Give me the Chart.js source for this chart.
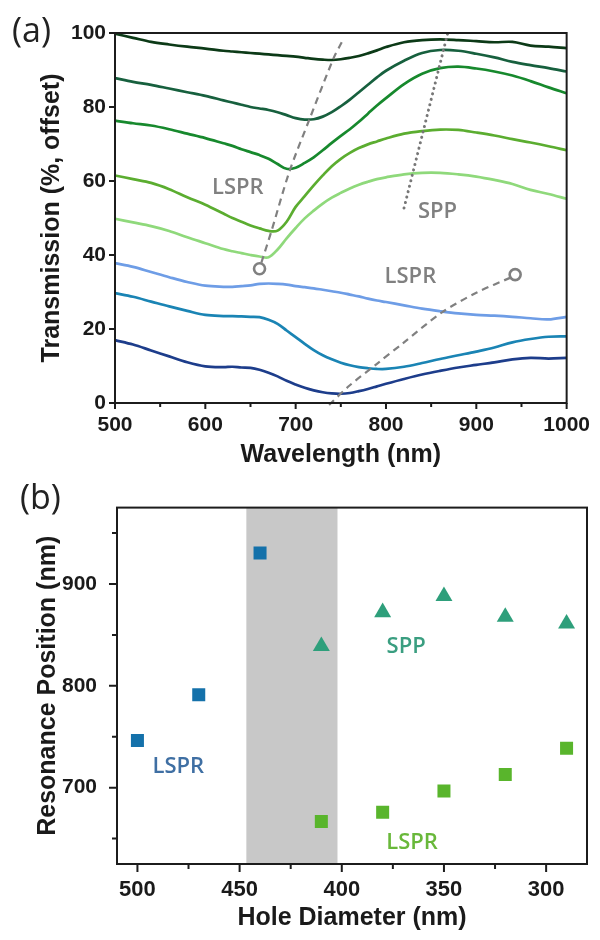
<!DOCTYPE html>
<html>
<head>
<meta charset="utf-8">
<title>Transmission spectra and resonance positions</title>
<script src="https://cdn.jsdelivr.net/npm/chart.js@4.4.1/dist/chart.umd.min.js"></script>
<style>
  html, body { margin: 0; padding: 0; background: #fff; }
  #wrap { position: relative; width: 600px; height: 940px; }
  canvas { position: absolute; left: 0; }
  #chartA { top: 0; }
  #chartB { top: 475px; }
</style>
</head>
<body>
<div id="wrap">
  <canvas id="chartA" width="600" height="475"></canvas>
  <canvas id="chartB" width="600" height="465"></canvas>
</div>
<script>
// ---- (a) transmission spectra (%, curves offset vertically) ----
const wavelengths = [500, 520, 540, 560, 580, 600,
  620, 630, 640, 650, 660, 670, 680, 690, 700, 710, 720, 730, 740, 750, 760, 770, 780, 790, 800,
  820, 840, 860, 880, 900, 920, 940, 960, 980, 1000];

const spec1 = [99.8, 98.7, 97.6, 96.9, 96.3, 95.8,
  95.2, 95.0, 94.8, 94.6, 94.4, 94.2, 94.0, 93.8, 93.6, 93.3, 93.0, 92.8, 92.7, 92.9, 93.3, 93.8, 94.5, 95.3, 96.2,
  97.5, 98.1, 98.3, 98.1, 97.8, 97.5, 97.6, 96.6, 96.3, 95.9];
const spec2 = [87.8, 86.8, 86.0, 85.0, 84.0, 83.0,
  81.8, 81.2, 80.6, 80.0, 79.6, 79.2, 78.6, 77.8, 77.0, 76.6, 76.7, 77.4, 78.6, 80.2, 82.0, 84.0, 86.0, 88.0, 89.8,
  92.5, 94.6, 95.4, 95.2, 94.4, 93.4, 92.2, 91.3, 90.5, 89.6];
const spec3 = [76.3, 75.6, 75.0, 74.0, 72.8, 71.6,
  70.2, 69.5, 68.6, 67.8, 67.0, 66.0, 64.6, 63.3, 63.6, 64.9, 66.4, 68.3, 70.3, 72.2, 74.0, 76.0, 78.2, 80.4, 82.4,
  86.2, 89.0, 90.5, 90.9, 90.4, 89.6, 88.5, 87.0, 85.3, 83.7];
const spec4 = [61.5, 60.5, 59.5, 57.8, 55.6, 53.6,
  51.2, 50.0, 49.0, 48.0, 47.2, 46.5, 46.6, 49.0, 53.0, 55.9, 58.8, 61.5, 64.0, 66.0, 67.6, 68.9, 69.9, 70.7, 71.5,
  72.8, 73.5, 73.9, 73.8, 73.1, 72.3, 71.3, 70.4, 69.4, 68.3];
const spec5 = [49.8, 48.8, 47.8, 46.5, 44.8, 43.2,
  41.6, 41.0, 40.5, 40.0, 39.6, 39.4, 41.5, 44.5, 47.3, 49.9, 52.0, 53.9, 55.5, 56.8, 58.0, 59.0, 59.8, 60.5, 61.0,
  61.8, 62.2, 62.2, 61.8, 61.2, 60.3, 59.2, 57.6, 56.5, 55.2];
const spec6 = [37.8, 36.8, 35.4, 34.0, 32.7, 31.7,
  31.4, 31.4, 31.6, 31.8, 32.2, 32.3, 32.2, 32.0, 31.6, 31.3, 31.0, 30.6, 30.2, 29.8, 29.3, 28.8, 28.2, 27.7, 27.3,
  26.4, 25.5, 24.8, 24.2, 23.8, 23.6, 23.3, 22.9, 22.6, 23.3];
const spec7 = [29.7, 28.7, 27.4, 26.1, 24.9, 23.8,
  23.5, 23.5, 23.4, 23.3, 23.2, 22.5, 21.4, 19.6, 17.8, 16.0, 14.3, 12.9, 11.8, 10.9, 10.2, 9.7, 9.4, 9.2, 9.2,
  9.8, 10.8, 11.9, 12.9, 13.9, 15.0, 16.4, 17.3, 17.9, 18.0];
const spec8 = [17.0, 15.8, 14.2, 12.6, 11.0, 9.9,
  9.7, 9.8, 9.6, 9.5, 9.0, 8.2, 7.2, 6.0, 5.0, 4.1, 3.4, 2.9, 2.6, 2.5, 2.7, 3.2, 3.8, 4.5, 5.2,
  6.5, 7.7, 8.7, 9.6, 10.3, 11.0, 11.8, 12.2, 12.0, 12.2];
const specColors = ['#0c3a17', '#17603e', '#17892d', '#5bad30', '#8fd97b', '#6e9de6', '#1a84b4', '#1d3d8b'];

// guide lines through the resonance dips / peaks
const lsprGuideX = [662, 673, 693, 715, 742, 751];
const lsprGuideY = [37.9, 46.3, 62.5, 76.5, 93.2, 97.5];
const sppGuideX = [820, 869];
const sppGuideY = [52.7, 100.6];
const lsprTailX = [737, 760, 790, 820, 862, 900, 938];
const lsprTailY = [-0.5, 4.8, 10.6, 16.4, 24.5, 29.8, 33.9];
const guideEndX = [660, 943];
const guideEndY = [36.3, 34.7];

const notesA = ['LSPR', 'SPP', 'LSPR'];
const notesAX = [636, 857, 827];
const notesAY = [58.1, 51.6, 34.0];

const xTicksA = [500, 600, 700, 800, 900, 1000];
const xMinorA = [550, 650, 750, 850, 950];
const yTicksA = [0, 20, 40, 60, 80, 100];

// ---- (b) resonance position vs hole diameter ----
const lsprBlueD = [500, 470, 440];
const lsprBlue = [746.3, 791.1, 930.3];
const sppD = [410, 380, 350, 320, 290];
const spp = [838.9, 872.2, 888.0, 867.6, 861.0];
const lsprGreenD = [410, 380, 350, 320, 290];
const lsprGreen = [666.7, 675.8, 696.8, 712.8, 738.6];
const bandRange = [446.7, 402.1];

const notesB = ['LSPR', 'SPP', 'LSPR'];
const notesBX = [480, 368.5, 365.6];
const notesBY = [720.4, 838, 646];
const notesBColors = ['#3f6fa3', '#3a9e80', '#69b83a'];

const xTicksB = [500, 450, 400, 350, 300];
const xMinorB = [475, 425, 375, 325];
const yTicksB = [700, 800, 900];
const yMinorB = [650, 750, 850, 950];

Chart.defaults.font.family = "'Liberation Sans', Arial, sans-serif";
Chart.defaults.color = '#1a1a1a';
Chart.defaults.animation = false;

const toPoints = (xs, ys) => xs.map((x, i) => ({x: x, y: ys[i]}));
const fixTicks = vals => s => { s.ticks = vals.map(v => ({value: v})); };

// box round the plot area plus outward tick marks
function framePlugin(cfg) {
  return {
    id: 'frame',
    afterDatasetsDraw(chart) {
      const {ctx, chartArea: a, scales: {x, y}} = chart;
      ctx.save();
      ctx.strokeStyle = '#1c1c1c';
      ctx.lineWidth = 2;
      ctx.strokeRect(a.left, a.top, a.right - a.left, a.bottom - a.top);
      ctx.beginPath();
      const xt = (vals, len) => vals.forEach(v => {
        const p = x.getPixelForValue(v);
        ctx.moveTo(p, a.bottom); ctx.lineTo(p, a.bottom + len);
      });
      const yt = (vals, len) => vals.forEach(v => {
        const p = y.getPixelForValue(v);
        ctx.moveTo(a.left, p); ctx.lineTo(a.left - len, p);
      });
      xt(cfg.xMajor, cfg.majorLen); xt(cfg.xMinor, cfg.minorLen);
      yt(cfg.yMajor, cfg.majorLen); yt(cfg.yMinor, cfg.minorLen);
      ctx.stroke();
      ctx.restore();
    }
  };
}

// text notes placed in data coordinates, plus the panel letter
function notesPlugin(texts, xs, ys, colors, letter, lx, ly) {
  return {
    id: 'notes',
    afterDraw(chart) {
      const {ctx, scales: {x, y}} = chart;
      ctx.save();
      ctx.font = "600 22px 'Open Sans', sans-serif";
      ctx.textAlign = 'center';
      ctx.textBaseline = 'middle';
      texts.forEach((t, i) => {
        ctx.fillStyle = colors[i];
        ctx.fillText(t, x.getPixelForValue(xs[i]), y.getPixelForValue(ys[i]));
      });
      ctx.font = "34px 'Open Sans', sans-serif";
      ctx.fillStyle = '#222';
      ctx.textAlign = 'left';
      ctx.textBaseline = 'alphabetic';
      ctx.fillText(letter, lx, ly);
      ctx.restore();
    }
  };
}

const bandPlugin = {
  id: 'band',
  beforeDatasetsDraw(chart) {
    const {ctx, chartArea: a, scales: {x}} = chart;
    const x0 = x.getPixelForValue(bandRange[0]);
    const x1 = x.getPixelForValue(bandRange[1]);
    ctx.save();
    ctx.fillStyle = '#c8c8c8';
    ctx.fillRect(Math.min(x0, x1), a.top, Math.abs(x1 - x0), a.bottom - a.top);
    ctx.restore();
  }
};

function axis(opts) {
  return {
    type: 'linear',
    min: opts.min, max: opts.max, reverse: !!opts.reverse,
    grid: { display: false, drawTicks: false },
    border: { display: false },
    afterBuildTicks: fixTicks(opts.ticks),
    afterFit: opts.fit,
    ticks: {
      font: { size: opts.tickSize || 21, weight: 'bold' },
      padding: opts.pad, maxRotation: 0, autoSkip: false,
      callback: v => String(v)
    },
    title: { display: true, text: opts.title, font: { size: 25, weight: 'bold' }, padding: opts.titlePad }
  };
}

// ---- panel (a) ----
const dsA = [
  { data: toPoints(lsprGuideX, lsprGuideY), borderColor: '#808080', borderWidth: 2.2, borderDash: [7, 5],
    pointRadius: 0, tension: 0.3, order: 0, clip: false },
  { data: toPoints(sppGuideX, sppGuideY), borderColor: '#777', borderWidth: 3, borderDash: [0.1, 5.5],
    borderCapStyle: 'round', pointRadius: 0, order: 0, clip: false },
  { data: toPoints(lsprTailX, lsprTailY), borderColor: '#808080', borderWidth: 2.2, borderDash: [7, 5],
    pointRadius: 0, tension: 0.3, order: 0, clip: false },
  { data: toPoints(guideEndX, guideEndY), showLine: false, pointStyle: 'circle', pointRadius: 5.5,
    pointBorderWidth: 2.6, pointBorderColor: '#808080', pointBackgroundColor: '#fff', order: 0, clip: false }
].concat([spec1, spec2, spec3, spec4, spec5, spec6, spec7, spec8].map((ys, i) => ({
  data: toPoints(wavelengths, ys),
  borderColor: specColors[i],
  borderWidth: 2.7,
  pointRadius: 0,
  tension: 0.35,
  order: 1,
  clip: 3
})));

new Chart(document.getElementById('chartA'), {
  type: 'line',
  data: { datasets: dsA },
  options: {
    responsive: false,
    layout: { padding: { left: 0, top: 33, right: 27, bottom: 0 } },
    plugins: { legend: { display: false }, tooltip: { enabled: false } },
    scales: {
      x: axis({ min: 500, max: 1000, ticks: xTicksA, pad: 10, title: 'Wavelength (nm)',
        titlePad: { bottom: 5 }, fit: s => { s.height = 72; } }),
      y: axis({ min: 0, max: 100, ticks: yTicksA, pad: 9, title: 'Transmission (%, offset)',
        titlePad: { top: 37 }, fit: s => { s.width = 115; } })
    }
  },
  plugins: [
    framePlugin({ xMajor: xTicksA, xMinor: xMinorA, yMajor: yTicksA, yMinor: [], majorLen: 6, minorLen: 4 }),
    notesPlugin(notesA, notesAX, notesAY, ['#808080', '#808080', '#808080'], '(a)', 12, 42)
  ]
});

// ---- panel (b) ----
new Chart(document.getElementById('chartB'), {
  type: 'scatter',
  data: {
    datasets: [
      { data: toPoints(lsprBlueD, lsprBlue), pointStyle: 'rect', pointRadius: 9.2,
        backgroundColor: '#1471aa', borderColor: '#1471aa', borderWidth: 0 },
      { data: toPoints(sppD, spp), pointStyle: 'triangle', pointRadius: 9.8,
        backgroundColor: '#2e9f7b', borderColor: '#2e9f7b', borderWidth: 0 },
      { data: toPoints(lsprGreenD, lsprGreen), pointStyle: 'rect', pointRadius: 9.2,
        backgroundColor: '#59b52c', borderColor: '#59b52c', borderWidth: 0 }
    ]
  },
  options: {
    responsive: false,
    layout: { padding: { left: 0, top: 12, right: 13, bottom: 0 } },
    plugins: { legend: { display: false }, tooltip: { enabled: false } },
    scales: {
      x: axis({ min: 280, max: 510, reverse: true, ticks: xTicksB, pad: 13, tickSize: 22,
        title: 'Hole Diameter (nm)', titlePad: { bottom: 7 }, fit: s => { s.height = 76; } }),
      y: axis({ min: 625, max: 975, ticks: yTicksB, pad: 20, title: 'Resonance Position (nm)',
        titlePad: { top: 33 }, fit: s => { s.width = 117; } })
    }
  },
  plugins: [
    bandPlugin,
    framePlugin({ xMajor: xTicksB, xMinor: xMinorB, yMajor: yTicksB, yMinor: yMinorB, majorLen: 8, minorLen: 5 }),
    notesPlugin(notesB, notesBX, notesBY, notesBColors, '(b)', 20, 34)
  ]
});
</script>
</body>
</html>
